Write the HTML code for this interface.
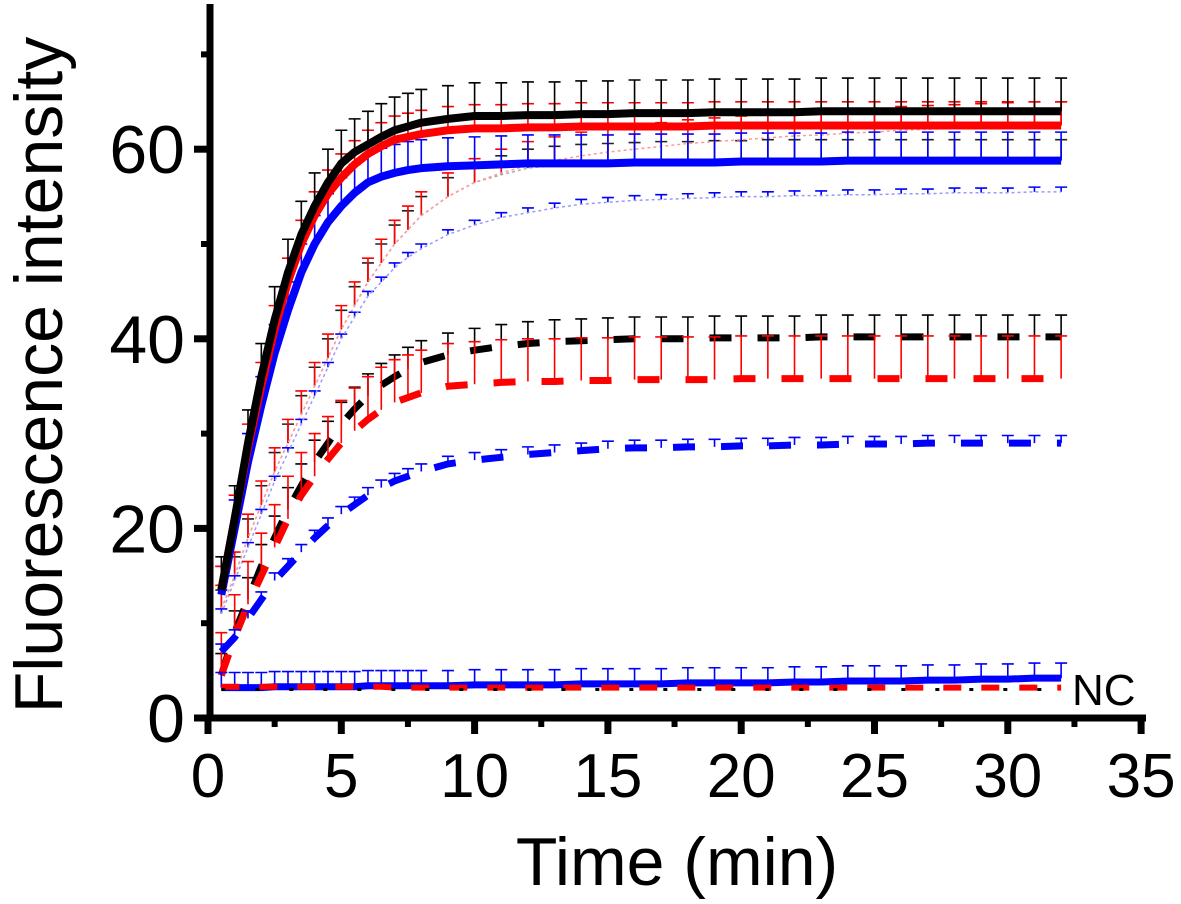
<!DOCTYPE html>
<html><head><meta charset="utf-8"><style>
html,body{margin:0;padding:0;background:#fff;}
svg{display:block;font-family:"Liberation Sans",Arial,sans-serif;}
</style></head><body>
<svg id="chart" width="1181" height="904" viewBox="0 0 1181 904">
<g id="series"></g>
<g id="axes"></g>
</svg>
<script>
const times = [0.5,1,1.5,2,2.5,3,3.5,4,4.5,5,5.5,6,6.5,7,7.5,8,9,10,11,12,13,14,15,16,17,18,19,20,21,22,23,24,25,26,27,28,29,30,31,32];
const solidBlack = [13.5,21,29,36,42,47,51,54,56.5,58.5,59.7,60.5,61.3,62,62.4,62.8,63.2,63.5,63.5,63.6,63.6,63.7,63.7,63.8,63.8,63.8,63.9,63.9,63.9,63.9,64,64,64,64,64,64,64,64,64,64];
const solidBlackErr = 3.5;
const solidRed = [13.5,21,28.5,35,41,46,50,53,55.3,57,58.4,59.5,60.3,61,61.3,61.6,62,62.2,62.2,62.3,62.3,62.4,62.4,62.4,62.4,62.4,62.5,62.5,62.5,62.5,62.5,62.5,62.5,62.5,62.5,62.5,62.5,62.5,62.5,62.5];
const solidRedErr = 2.5;
const solidBlue = [13,20,27,33,38.5,43,47,50,52.3,54,55.4,56.5,57.1,57.5,57.8,58,58.2,58.3,58.4,58.5,58.5,58.5,58.5,58.6,58.6,58.6,58.6,58.7,58.7,58.7,58.7,58.8,58.8,58.8,58.8,58.8,58.8,58.8,58.8,58.8];
const solidBlueErr = 3;
const dotBlack = [11.5,15,19,22.5,26,29,32,35,38,41,43.5,46,48,50,51.5,53,55,56.5,57.3,58,58.3,58.5,58.6,58.7,58.8,58.8,58.9,58.9,59,59,59,59,59,59,59,59,59,59,59,59];
const dotBlackErr = 2;
const dotRed = [11.5,15,19,22.5,26,29,32,35,38,41,43.5,46,48,50,51.5,53,55,56.5,57.5,58.3,58.8,59.3,59.7,60,60.3,60.6,60.8,61,61.2,61.4,61.5,61.7,61.8,62,62.1,62.2,62.3,62.4,62.5,62.5];
const dotRedErr = 2.5;
const dotBlue = [11,14.5,18,21.5,25,28,31,34,37,40,42.3,44.5,46,47.5,48.6,49.5,51,52,52.8,53.3,53.8,54.2,54.4,54.6,54.7,54.8,54.9,55,55,55.1,55.1,55.2,55.2,55.3,55.3,55.4,55.4,55.4,55.5,55.5];
const dotBlueErr = 0.5;
const dashBlack = [4.5,9,12.5,16,19,22,24.5,27,29,31,32.6,34,35.1,36,36.8,37.5,38.3,38.8,39.2,39.5,39.7,39.8,39.9,40,40,40,40.1,40.1,40.1,40.1,40.2,40.2,40.2,40.2,40.2,40.2,40.2,40.2,40.2,40.2];
const dashBlackErr = 2.3;
const dashRed = [4.5,8.5,12,15,18,21,23.5,25.5,27.3,29,30.3,31.5,32.5,33.3,33.8,34.3,35,35.2,35.4,35.5,35.5,35.6,35.6,35.7,35.7,35.7,35.7,35.8,35.8,35.8,35.8,35.8,35.8,35.8,35.8,35.8,35.8,35.8,35.8,35.8];
const dashRedErr = 4.5;
const dashBlue = [7,8.5,10.5,12.5,14.5,16,17.5,19,20.3,21.5,22.5,23.5,24.3,25,25.5,26,26.8,27.2,27.5,27.8,28,28.2,28.4,28.5,28.5,28.6,28.6,28.7,28.7,28.8,28.8,28.9,28.9,28.9,29,29,29,29,29,29];
const dashBlueErr = 0.8;
const ncBlue = [3.2,3.2,3.2,3.2,3.3,3.3,3.3,3.3,3.3,3.3,3.3,3.4,3.4,3.4,3.4,3.4,3.4,3.5,3.5,3.5,3.5,3.6,3.6,3.6,3.6,3.7,3.7,3.7,3.7,3.8,3.8,3.9,3.9,3.9,4,4,4.1,4.1,4.2,4.2];
const ncBlueErr = 1.6;
const ncRed = [3.3,3.3,3.3,3.3,3.3,3.3,3.3,3.3,3.3,3.3,3.3,3.3,3.3,3.2,3.2,3.2,3.2,3.2,3.2,3.2,3.2,3.2,3.2,3.2,3.2,3.2,3.2,3.2,3.2,3.2,3.2,3.2,3.2,3.2,3.2,3.2,3.2,3.2,3.2,3.2];
const ncBlack = [3,3,3,3,3,3,3,3,3,3,3,3,3,3,3,3,3,3,3,3,3,3,3,3,3,3,3,3,3,3,3,3,3,3,3,3,3,3,3,3];
const xTicks = [0,5,10,15,20,25,30,35];
const yTicks = [0,20,40,60];
const yMinor = [10,30,50,70];

const NS='http://www.w3.org/2000/svg';
const X0=208, XS=26.66, Y0=718, YS=9.48;
function xs(v){return X0+v*XS;}
function ys(v){return Y0-v*YS;}
function mk(tag,attrs,parent){const e=document.createElementNS(NS,tag);for(const k in attrs)e.setAttribute(k,attrs[k]);parent.appendChild(e);return e;}
const sg=document.getElementById('series');
const ag=document.getElementById('axes');

function series(name,vals,err,color,width,dash,errColor){
  const g=mk('g',{},sg);
  
  
  if(err>0){
    let d='';
    vals.forEach((v,i)=>{const x=xs(times[i]);d+=`M${x},${ys(v)}V${ys(v+err)}M${x-6},${ys(v+err)}H${x+6}`;});
    const eb=mk('path',{d:d,stroke:errColor||color,'stroke-width':1.6,fill:'none'},g);
    
    
  }
  const pts=vals.map((v,i)=>xs(times[i])+','+ys(v)).join(' ');
  const ln=mk('polyline',{points:pts,stroke:color,'stroke-width':width,fill:'none','stroke-dasharray':dash||'none','stroke-linejoin':'round'},g);
  
  
}
series('dotted-black',dotBlack,dotBlackErr,'#aaa',1.5,'3 3','#222');
series('dotted-red',dotRed,dotRedErr,'#f99',1.5,'3 3','#f00');
series('dotted-blue',dotBlue,dotBlueErr,'#99f',1.5,'3 3','#00f');
series('dashed-black',dashBlack,dashBlackErr,'#000',7,'22 26');
series('dashed-red',dashRed,dashRedErr,'#f00',7,'22 26');
series('dashed-blue',dashBlue,dashBlueErr,'#00f',7,'22 26');
series('nc-blue',ncBlue,ncBlueErr,'#00f',7,null);
series('nc-red',ncRed,0,'#f00',6,'18 20');
series('nc-black',ncBlack,0,'#000',3,'4 30');
series('solid-blue',solidBlue,solidBlueErr,'#00f',8,null);
series('solid-red',solidRed,solidRedErr,'#f00',8,null);
series('solid-black',solidBlack,solidBlackErr,'#000',8,null);

let a=mk('line',{x1:X0+2,y1:4,x2:X0+2,y2:Y0+3,stroke:'#000','stroke-width':7},ag);

a=mk('line',{x1:X0-1,y1:Y0,x2:1146,y2:Y0,stroke:'#000','stroke-width':7},ag);

xTicks.forEach((t,i)=>{
  const x=xs(t);
  const tk=mk('line',{x1:x,y1:Y0,x2:x,y2:Y0+16,stroke:'#000','stroke-width':7},ag);
  
  if(i<xTicks.length-1){const m=mk('line',{x1:xs(t+2.5),y1:Y0,x2:xs(t+2.5),y2:Y0+9,stroke:'#000','stroke-width':6},ag);
  }
  const lb=mk('text',{x:x,y:797,'font-size':62,'text-anchor':'middle',fill:'#000'},ag);lb.textContent=t;
  
});
yTicks.forEach(t=>{
  const y=ys(t);
  const tk=mk('line',{x1:X0+2,y1:y,x2:X0-14,y2:y,stroke:'#000','stroke-width':7},ag);
  
  const lb=mk('text',{x:185,y:y+24,'font-size':68,'text-anchor':'end',fill:'#000'},ag);lb.textContent=t;
  
});
yMinor.forEach(t=>{
  const m=mk('line',{x1:X0+2,y1:ys(t),x2:X0-7,y2:ys(t),stroke:'#000','stroke-width':6},ag);
  
});
let tt=mk('text',{x:0,y:0,'font-size':68,'text-anchor':'middle',fill:'#000',transform:'translate(62,375) rotate(-90)'},ag);
tt.textContent='Fluorescence intensity';

tt=mk('text',{x:677,y:885,'font-size':68,'text-anchor':'middle',fill:'#000'},ag);
tt.textContent='Time (min)';

tt=mk('text',{x:1072,y:705,'font-size':44,fill:'#000'},ag);
tt.textContent='NC';

</script>
</body></html>
